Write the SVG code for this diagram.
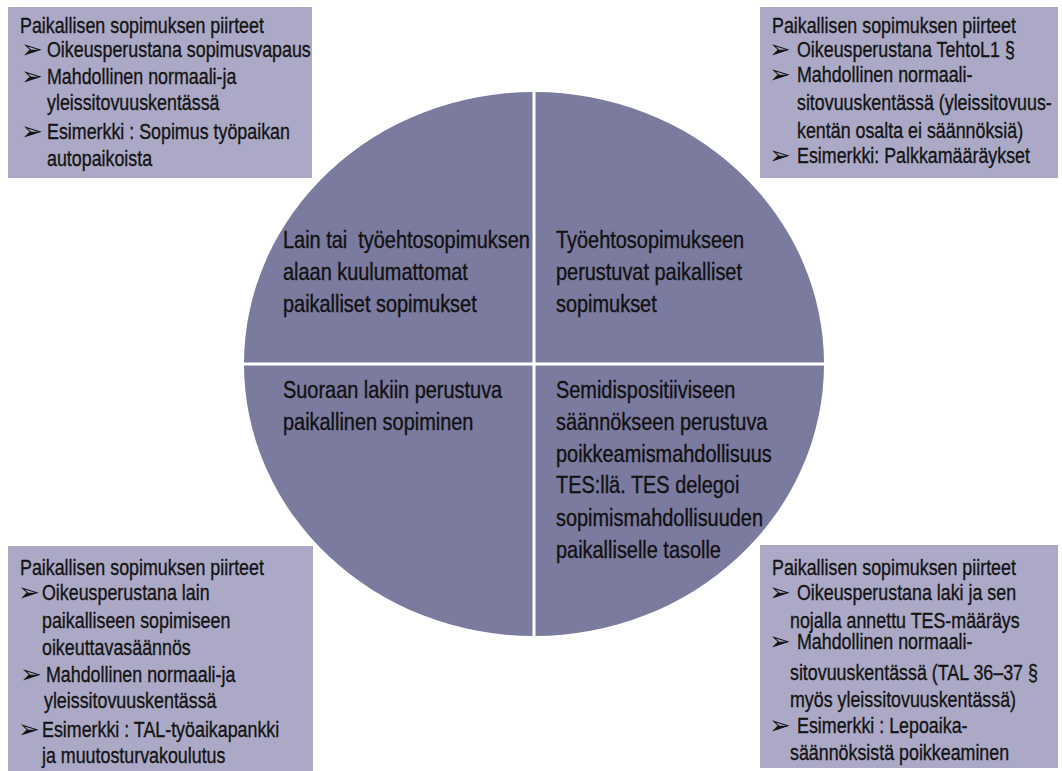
<svg xmlns="http://www.w3.org/2000/svg" width="1062" height="771" viewBox="0 0 1062 771">
  <style>
    .quad { fill: #7b7a9f; }
    .box { fill: #aba9c6; }
    .bt { font-family: "Liberation Sans", Arial, sans-serif; font-size: 21.5px; fill: #141414; stroke: #141414; stroke-width: 0.35px; }
    .ar { font-family: "DejaVu Sans", sans-serif; font-size: 26px; fill: #141414; }
    .qt { font-family: "Liberation Sans", Arial, sans-serif; font-size: 24px; fill: #111111; stroke: #111111; stroke-width: 0.35px; white-space: pre; }
    .div { stroke: #ffffff; stroke-width: 3; }
  </style>
  <rect width="1062" height="771" fill="#ffffff"/>

  <!-- circle divided into four quadrants; labels use a condensed (x 0.83) text group -->
  <g id="q-top-left">
    <path class="quad" d="M534 364 L244 364 A290 272 0 0 1 534 92 Z"/>
    <g transform="scale(0.83 1)">
      <text class="qt" x="340.96" y="248">Lain tai  työehtosopimuksen</text>
      <text class="qt" x="340.96" y="280">alaan kuulumattomat</text>
      <text class="qt" x="340.96" y="312">paikalliset sopimukset</text>
    </g>
  </g>
  <g id="q-top-right">
    <path class="quad" d="M534 364 L534 92 A290 272 0 0 1 824 364 Z"/>
    <g transform="scale(0.83 1)">
      <text class="qt" x="669.88" y="248">Työehtosopimukseen</text>
      <text class="qt" x="669.88" y="280">perustuvat paikalliset</text>
      <text class="qt" x="669.88" y="312">sopimukset</text>
    </g>
  </g>
  <g id="q-bottom-left">
    <path class="quad" d="M534 364 L534 636 A290 272 0 0 1 244 364 Z"/>
    <g transform="scale(0.83 1)">
      <text class="qt" x="340.96" y="398">Suoraan lakiin perustuva</text>
      <text class="qt" x="340.96" y="430">paikallinen sopiminen</text>
    </g>
  </g>
  <g id="q-bottom-right">
    <path class="quad" d="M534 364 L824 364 A290 272 0 0 1 534 636 Z"/>
    <g transform="scale(0.83 1)">
      <text class="qt" x="669.88" y="398">Semidispositiiviseen</text>
      <text class="qt" x="669.88" y="430">säännökseen perustuva</text>
      <text class="qt" x="669.88" y="462">poikkeamismahdollisuus</text>
      <text class="qt" x="669.88" y="493">TES:llä. TES delegoi</text>
      <text class="qt" x="669.88" y="526">sopimismahdollisuuden</text>
      <text class="qt" x="669.88" y="558">paikalliselle tasolle</text>
    </g>
  </g>
  <g id="dividers">
    <line class="div" x1="534" y1="88" x2="534" y2="640"/>
    <line class="div" x1="240" y1="364" x2="828" y2="364"/>
  </g>

  <!-- feature boxes -->
  <g id="box-top-left">
    <rect class="box" x="8" y="7" width="304" height="171"/>
    <text class="ar" x="21" y="58">➢</text>
    <text class="ar" x="21" y="85">➢</text>
    <text class="ar" x="21" y="140">➢</text>
    <g transform="scale(0.83 1)">
      <text class="bt" x="24.10" y="33">Paikallisen sopimuksen piirteet</text>
      <text class="bt" x="56.63" y="57">Oikeusperustana sopimusvapaus</text>
      <text class="bt" x="56.63" y="84">Mahdollinen normaali-ja</text>
      <text class="bt" x="56.63" y="110">yleissitovuuskentässä</text>
      <text class="bt" x="56.63" y="139">Esimerkki : Sopimus työpaikan</text>
      <text class="bt" x="56.63" y="166">autopaikoista</text>
    </g>
  </g>
  <g id="box-top-right">
    <rect class="box" x="760" y="7" width="298" height="171"/>
    <text class="ar" x="769" y="58">➢</text>
    <text class="ar" x="769" y="83">➢</text>
    <text class="ar" x="769" y="164">➢</text>
    <g transform="scale(0.83 1)">
      <text class="bt" x="930.12" y="33">Paikallisen sopimuksen piirteet</text>
      <text class="bt" x="960.24" y="57">Oikeusperustana TehtoL1 §</text>
      <text class="bt" x="960.24" y="82">Mahdollinen normaali-</text>
      <text class="bt" x="960.24" y="110">sitovuuskentässä (yleissitovuus-</text>
      <text class="bt" x="960.24" y="138">kentän osalta ei säännöksiä)</text>
      <text class="bt" x="960.24" y="163">Esimerkki: Palkkamääräykset</text>
    </g>
  </g>
  <g id="box-bottom-left">
    <rect class="box" x="8" y="546" width="305" height="225"/>
    <text class="ar" x="18" y="601">➢</text>
    <text class="ar" x="20" y="683">➢</text>
    <text class="ar" x="18" y="738">➢</text>
    <g transform="scale(0.83 1)">
      <text class="bt" x="24.10" y="575">Paikallisen sopimuksen piirteet</text>
      <text class="bt" x="50.60" y="600">Oikeusperustana lain</text>
      <text class="bt" x="50.60" y="628">paikalliseen sopimiseen</text>
      <text class="bt" x="50.60" y="655">oikeuttavasäännös</text>
      <text class="bt" x="55.42" y="682">Mahdollinen normaali-ja</text>
      <text class="bt" x="53.01" y="708">yleissitovuuskentässä</text>
      <text class="bt" x="50.60" y="737">Esimerkki : TAL-työaikapankki</text>
      <text class="bt" x="50.60" y="763">ja muutosturvakoulutus</text>
    </g>
  </g>
  <g id="box-bottom-right">
    <rect class="box" x="760" y="545" width="298" height="223"/>
    <text class="ar" x="769" y="601">➢</text>
    <text class="ar" x="769" y="650">➢</text>
    <text class="ar" x="769" y="734">➢</text>
    <g transform="scale(0.83 1)">
      <text class="bt" x="930.12" y="575">Paikallisen sopimuksen piirteet</text>
      <text class="bt" x="960.24" y="600">Oikeusperustana laki ja sen</text>
      <text class="bt" x="951.81" y="628">nojalla annettu TES-määräys</text>
      <text class="bt" x="960.24" y="649">Mahdollinen normaali-</text>
      <text class="bt" x="951.81" y="680">sitovuuskentässä (TAL 36–37 §</text>
      <text class="bt" x="951.81" y="707">myös yleissitovuuskentässä)</text>
      <text class="bt" x="960.24" y="733">Esimerkki : Lepoaika-</text>
      <text class="bt" x="951.81" y="760">säännöksistä poikkeaminen</text>
    </g>
  </g>
</svg>
